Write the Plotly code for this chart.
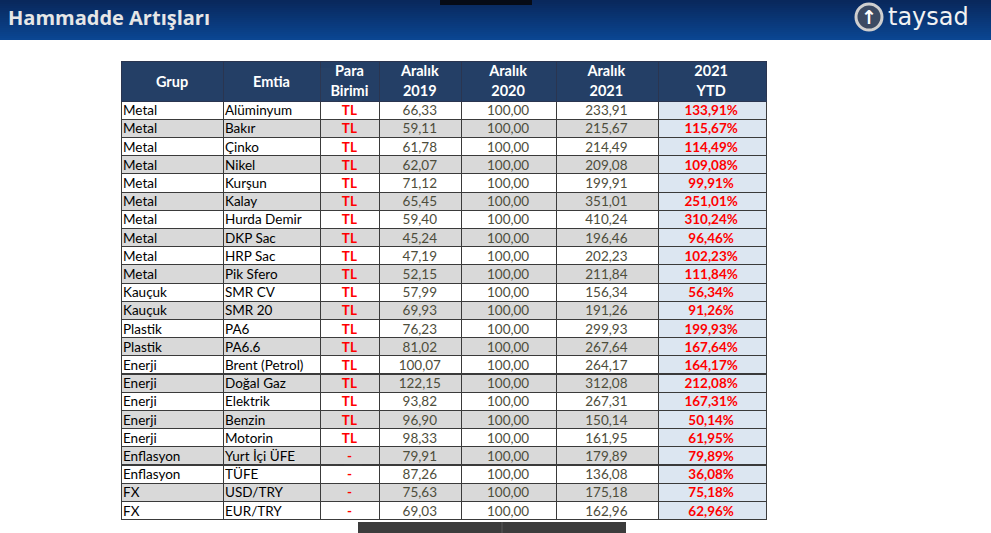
import plotly.graph_objects as go

# Données du tableau
grup = ["Metal", "Metal", "Metal", "Metal", "Metal", "Metal", "Metal", "Metal", "Metal", "Metal",
        "Kauçuk", "Kauçuk", "Plastik", "Plastik", "Enerji", "Enerji", "Enerji", "Enerji", "Enerji",
        "Enflasyon", "Enflasyon", "FX", "FX"]
emtia = ["Alüminyum", "Bakır", "Çinko", "Nikel", "Kurşun", "Kalay", "Hurda Demir", "DKP Sac",
         "HRP Sac", "Pik Sfero", "SMR CV", "SMR 20", "PA6", "PA6.6", "Brent (Petrol)", "Doğal Gaz",
         "Elektrik", "Benzin", "Motorin", "Yurt İçi ÜFE", "TÜFE", "USD/TRY", "EUR/TRY"]
para_birimi = ["TL"] * 19 + ["-"] * 4
aralik_2019 = [66.33, 59.11, 61.78, 62.07, 71.12, 65.45, 59.40, 45.24, 47.19, 52.15, 57.99, 69.93,
               76.23, 81.02, 100.07, 122.15, 93.82, 96.90, 98.33, 79.91, 87.26, 75.63, 69.03]
aralik_2020 = [100.00] * 23
aralik_2021 = [233.91, 215.67, 214.49, 209.08, 199.91, 351.01, 410.24, 196.46, 202.23, 211.84,
               156.34, 191.26, 299.93, 267.64, 264.17, 312.08, 267.31, 150.14, 161.95, 179.89,
               136.08, 175.18, 162.96]
ytd_2021 = [133.91, 115.67, 114.49, 109.08, 99.91, 251.01, 310.24, 96.46, 102.23, 111.84,
            56.34, 91.26, 199.93, 167.64, 164.17, 212.08, 167.31, 50.14, 61.95, 79.89,
            36.08, 75.18, 62.96]
header_left = ["Grup", "Emtia"]
header_top = ["Para", "Aralık", "Aralık", "Aralık", "2021"]
header_bottom = ["Birimi", "2019", "2020", "2021", "YTD"]

W, H = 991, 533
TOP = 61          # haut du tableau (px)
HEAD_H = 40
ROW_H = 18.2
COLW = [102, 97, 59, 82, 95, 102, 108]
X0, X1 = 121, 766
X_SPLIT = X0 + COLW[0] + COLW[1]
CLEAR = "rgba(0,0,0,0)"
FONT = "Lato"


def tr(v, pct=False):
    s = f"{v:.2f}".replace(".", ",")
    return s + "%" if pct else s


def ydom(top_px):
    return [0, 1 - top_px / H]


n = len(grup)
row_fill = ["#ffffff" if i % 2 == 0 else "#d9d9d9" for i in range(n)]
ytd_fill = ["#dce6f1"] * n
num_color = "#4d4d3b"

fig = go.Figure()

# Bandeau de titre (dégradé approximé par bandes)
top_c = (9, 40, 92)
bot_c = (11, 70, 146)
steps = 20
for k in range(steps):
    t = k / (steps - 1)
    c = tuple(int(top_c[j] + (bot_c[j] - top_c[j]) * t) for j in range(3))
    fig.add_shape(type="rect", xref="paper", yref="paper",
                  x0=0, x1=1, y0=1 - (k + 1) * 40 / steps / H, y1=1 - k * 40 / steps / H,
                  fillcolor=f"rgb{c}", line_width=0, layer="below")
fig.add_shape(type="rect", xref="paper", yref="paper", x0=440 / W, x1=532 / W,
              y0=1 - 5 / H, y1=1, fillcolor="#060b16", line_width=0)
fig.add_annotation(x=6 / W, y=1 - 17 / H, xref="paper", yref="paper", xanchor="left",
                   yanchor="middle", text="<b>Hammadde Artışları</b>", showarrow=False,
                   font=dict(family="Open Sans", size=20, color="#e6e6e6"))
# Logo
fig.add_shape(type="circle", xref="paper", yref="paper", x0=856 / W, x1=882 / W,
              y0=1 - 30 / H, y1=1 - 4 / H, fillcolor="#3b4a63",
              line=dict(color="#cfcfcf", width=3))
fig.add_annotation(x=869 / W, y=1 - 17 / H, xref="paper", yref="paper", xanchor="center",
                   yanchor="middle", text="<b>↑</b>", showarrow=False,
                   font=dict(family="DejaVu Sans", size=19, color="#ffffff"))
fig.add_annotation(x=886 / W, y=1 - 17 / H, xref="paper", yref="paper", xanchor="left",
                   yanchor="middle", text="taysad", showarrow=False,
                   font=dict(family="DejaVu Sans", size=24, color="#f2f2f2"))

# Barre sombre en bas
fig.add_shape(type="rect", xref="paper", yref="paper", x0=358 / W, x1=626 / W,
              y0=0, y1=11 / H, fillcolor="#3c3c3c", line_width=0)
fig.add_shape(type="line", xref="paper", yref="paper", x0=502 / W, x1=502 / W,
              y0=0, y1=11 / H, line=dict(color="#5a5a5a", width=1))

# 1) fonds et bordures
fig.add_trace(go.Table(
    domain=dict(x=[X0 / W, X1 / W], y=ydom(TOP)),
    columnwidth=COLW,
    header=dict(values=[""] * 7, fill_color="#243f66",
                line=dict(color="#2a3550", width=1), height=HEAD_H),
    cells=dict(values=[[""] * n] * 7,
               fill_color=[row_fill] * 6 + [ytd_fill],
               line=dict(color="#3a3a3a", width=1), height=ROW_H),
))

# 2) texte des colonnes Grup / Emtia (alignées à gauche, colonne Emtia élargie
#    pour éviter le retour à la ligne)
fig.add_trace(go.Table(
    domain=dict(x=[(X0 - 6) / W, (X_SPLIT + 24) / W], y=ydom(TOP - 4)),
    columnwidth=[COLW[0], COLW[1] + 30],
    header=dict(values=["", ""], fill_color=CLEAR, line=dict(color=CLEAR, width=0),
                height=HEAD_H),
    cells=dict(values=[grup, emtia], fill_color=CLEAR, line=dict(color=CLEAR, width=0),
               font=dict(family=FONT, size=13.5, color="#000000"),
               align="left", height=ROW_H),
))

# 3) texte des autres colonnes + en-tête sur deux lignes
fig.add_trace(go.Table(
    domain=dict(x=[X_SPLIT / W, X1 / W], y=ydom(TOP - 4)),
    columnwidth=COLW[2:],
    header=dict(values=[[a, b] for a, b in zip(header_top, header_bottom)],
                fill_color=CLEAR, line=dict(color=CLEAR, width=0),
                font=dict(family=FONT, size=14.5, color="#ffffff", weight=700),
                align="center", height=HEAD_H / 2),
    cells=dict(values=[para_birimi,
                       [tr(v) for v in aralik_2019],
                       [tr(v) for v in aralik_2020],
                       [tr(v) for v in aralik_2021],
                       [tr(v, True) for v in ytd_2021]],
               fill_color=CLEAR, line=dict(color=CLEAR, width=0),
               font=dict(family=FONT, size=13.5,
                         color=["#ff0000", num_color, num_color, num_color, "#ff0000"],
                         weight=[700, 400, 400, 400, 700]),
               align="center", height=ROW_H),
))

# 4) en-tête Grup / Emtia centré verticalement
fig.add_trace(go.Table(
    domain=dict(x=[X0 / W, X_SPLIT / W], y=ydom(TOP + 7)),
    columnwidth=COLW[:2],
    header=dict(values=header_left, fill_color=CLEAR, line=dict(color=CLEAR, width=0),
                font=dict(family=FONT, size=14.5, color="#ffffff", weight=700),
                align="center", height=20),
    cells=dict(values=[[], []], fill_color=CLEAR, line=dict(color=CLEAR, width=0)),
))

fig.update_layout(width=W, height=H, margin=dict(l=0, r=0, t=0, b=0),
                  paper_bgcolor="#ffffff", plot_bgcolor="#ffffff")

fig.write_html("out.html", config={"displayModeBar": False},
               post_script="document.body.style.margin='0';")
